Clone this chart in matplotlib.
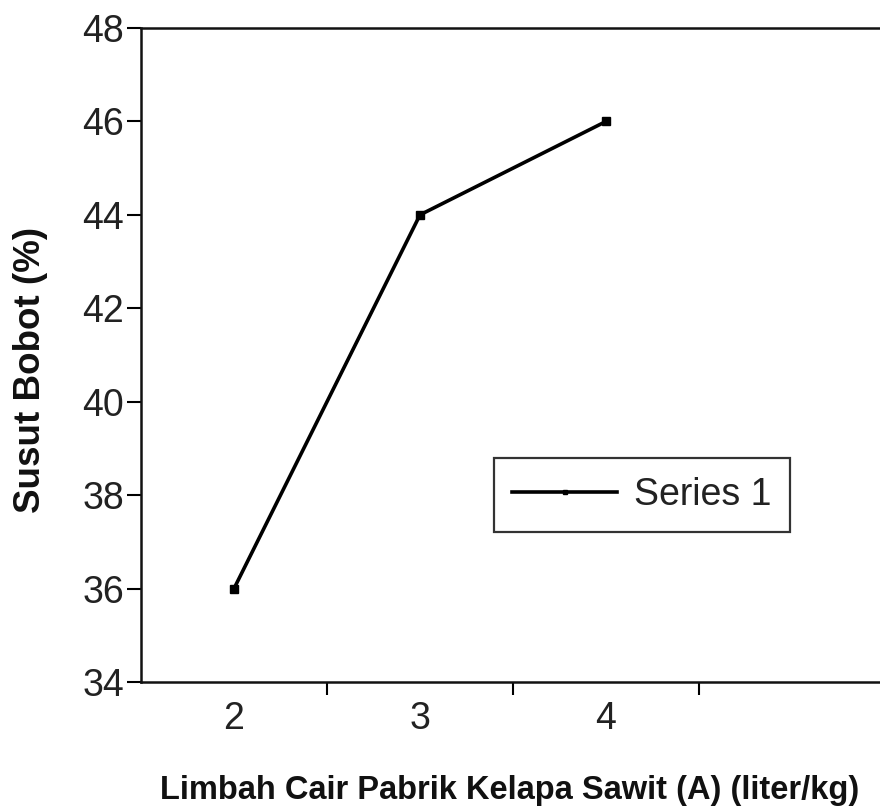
import matplotlib
matplotlib.use("Agg")
import matplotlib.pyplot as plt

plt.rcParams['font.family'] = ['Liberation Sans', 'DejaVu Sans']

categories = ['2', '3', '4']
values = [36, 44, 46]
y_ticks = [34, 36, 38, 40, 42, 44, 46, 48]

fig = plt.figure(figsize=(8.8, 8.1), dpi=100)
ax = fig.add_axes([141/880, 128/810, 744/880, 654/810])

xpos = list(range(1, len(categories) + 1))
ax.plot(xpos, values, color='black', linewidth=2.6, marker='s', markersize=6,
        label='Series 1')

ax.set_xlim(0.5, 4.5)
ax.set_ylim(34, 48)
ax.set_yticks(y_ticks)
ax.set_yticklabels([str(t) for t in y_ticks])

# category boundaries carry the tick marks, labels sit at the centres
ax.set_xticks([1.5, 2.5, 3.5])
ax.set_xticklabels([])
ax.set_xticks(xpos, minor=True)
ax.set_xticklabels(categories, minor=True)
ax.tick_params(axis='x', which='major', direction='out', length=9, width=1.5)
ax.tick_params(axis='x', which='minor', length=0, labelsize=27, pad=14,
               colors='#333333', labelcolor='#222222')
ax.tick_params(axis='y', direction='out', length=10, width=1.5, labelsize=27,
               pad=2, labelcolor='#222222')

for side in ['left', 'top', 'bottom']:
    ax.spines[side].set_linewidth(1.8)
    ax.spines[side].set_color('#111111')
ax.spines['right'].set_visible(False)

fig.text(510/880, 1 - 790/810, 'Limbah Cair Pabrik Kelapa Sawit (A) (liter/kg)',
         ha='center', va='center', fontsize=23.5, fontweight='bold', color='#111111')
fig.text(31/880, 1 - 370/810, 'Susut Bobot (%)', ha='center', va='center',
         rotation=90, fontsize=26.5, fontweight='bold', color='#111111')

leg = ax.legend(loc='center', bbox_to_anchor=(642/880, 1 - 495/810),
                bbox_transform=fig.transFigure, fontsize=27, fancybox=False,
                handlelength=2.8, handletextpad=0.45, borderpad=0.5,
                borderaxespad=0, markerscale=0.6)
leg.get_frame().set_edgecolor('black')
leg.get_frame().set_linewidth(1.6)
for t in leg.get_texts():
    t.set_color('#222222')

fig.savefig('out.png', dpi=100)
